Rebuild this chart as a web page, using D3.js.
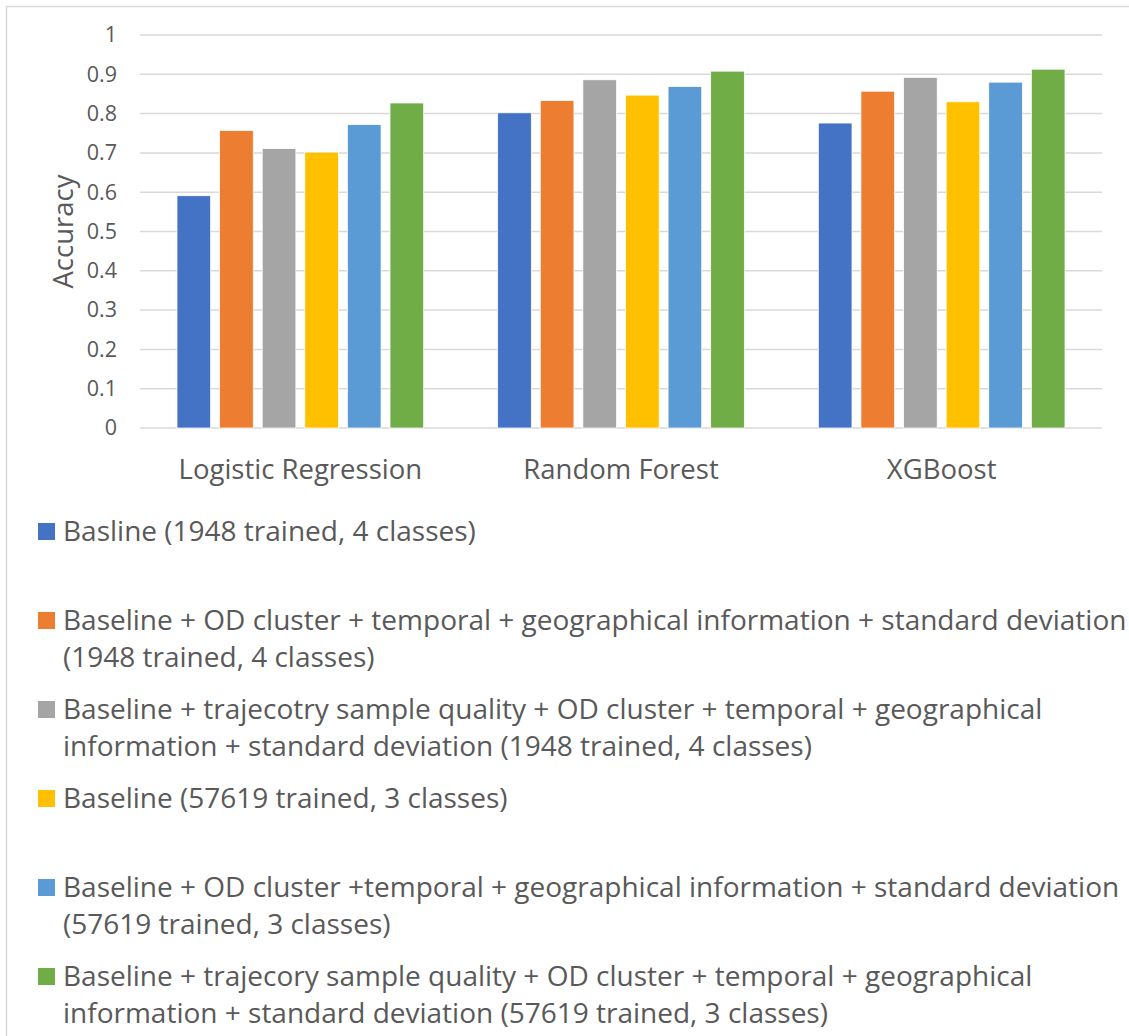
<!DOCTYPE html>
<html>
<head>
<meta charset="utf-8">
<script src="https://cdn.jsdelivr.net/npm/d3@7"></script>
<style>
    body { margin: 0; background: #fff; }
    text { font-family: "Open Sans", sans-serif; fill: #595959; }
</style>
</head>
<body>
<div id="graph"></div>
<script>
let categories = ["Logistic Regression", "Random Forest", "XGBoost"];

let seriesNames = [
    "Basline (1948 trained, 4 classes)",
    "Baseline + OD cluster + temporal + geographical information + standard deviation\n(1948 trained, 4 classes)",
    "Baseline + trajecotry sample quality + OD cluster + temporal + geographical\ninformation + standard deviation (1948 trained, 4 classes)",
    "Baseline (57619 trained, 3 classes)",
    "Baseline + OD cluster +temporal + geographical information + standard deviation\n(57619 trained, 3 classes)",
    "Baseline + trajecory sample quality + OD cluster + temporal + geographical\ninformation + standard deviation (57619 trained, 3 classes)"
];

let seriesColors = ["#4472C4", "#ED7D31", "#A5A5A5", "#FFC000", "#5B9BD5", "#70AD47"];

// one array per series, values in category order
let baseline1948 = [0.591, 0.802, 0.776];
let odTemporal1948 = [0.757, 0.833, 0.857];
let quality1948 = [0.711, 0.886, 0.892];
let baseline57619 = [0.702, 0.847, 0.830];
let odTemporal57619 = [0.772, 0.869, 0.880];
let quality57619 = [0.827, 0.908, 0.913];

let seriesValues = [baseline1948, odTemporal1948, quality1948, baseline57619, odTemporal57619, quality57619];

let yTickValues = [0, 0.1, 0.2, 0.3, 0.4, 0.5, 0.6, 0.7, 0.8, 0.9, 1];
let yTickLabels = ["0", "0.1", "0.2", "0.3", "0.4", "0.5", "0.6", "0.7", "0.8", "0.9", "1"];

let svgWidth = 1129;
let svgHeight = 1036;

let plotLeft = 140;
let plotRight = 1102;
let plotTop = 35;
let plotBottom = 428;

let svg = d3.select("#graph")
    .append("svg")
    .attr("width", svgWidth)
    .attr("height", svgHeight);

// chart area border (runs off the right and bottom of the picture)
svg.append("rect")
    .attr("x", 6.5)
    .attr("y", 6.5)
    .attr("width", svgWidth + 20)
    .attr("height", svgHeight + 20)
    .attr("fill", "none")
    .attr("stroke", "#d9d9d9")
    .attr("stroke-width", 1.5);

let x0 = d3.scaleBand()
    .domain(categories)
    .range([plotLeft, plotRight]);

let x1 = d3.scaleBand()
    .domain(d3.range(seriesNames.length))
    .range([37, x0.bandwidth() - 37])
    .paddingInner(0.21);

let yScale = d3.scaleLinear()
    .domain([0, 1])
    .range([plotBottom, plotTop]);

// gridlines
svg.append("g")
    .selectAll("line")
    .data(yTickValues)
    .enter()
    .append("line")
    .attr("x1", plotLeft)
    .attr("x2", plotRight)
    .attr("y1", (d) => yScale(d))
    .attr("y2", (d) => yScale(d))
    .attr("stroke", "#d9d9d9")
    .attr("stroke-width", 1.5);

// y axis labels only, no domain line or ticks
let yAxis = d3.axisLeft(yScale)
    .tickValues(yTickValues)
    .tickFormat((d, i) => yTickLabels[i])
    .tickSize(0)
    .tickPadding(23);

svg.append("g")
    .attr("class", "y axis")
    .attr("transform", "translate(" + plotLeft + ",0)")
    .call(yAxis)
    .call((g) => g.select(".domain").remove())
    .selectAll("text")
    .attr("font-family", "Open Sans")
    .attr("font-size", "21.5px")
    .attr("fill", "#595959");

// bars
let groups = svg.append("g")
    .selectAll("g")
    .data(categories)
    .enter()
    .append("g")
    .attr("transform", (d) => "translate(" + x0(d) + ",0)");

groups.selectAll("rect")
    .data((d, ci) => seriesValues.map((vals, si) => ({ s: si, v: vals[ci] })))
    .enter()
    .append("rect")
    .attr("x", (d) => x1(d.s))
    .attr("y", (d) => yScale(d.v))
    .attr("width", x1.bandwidth())
    .attr("height", (d) => yScale(0) - yScale(d.v))
    .attr("fill", (d) => seriesColors[d.s])
    .attr("stroke", "#fff")
    .attr("stroke-width", 0.75);

// x axis labels
let xAxis = d3.axisBottom(x0)
    .tickSize(0)
    .tickPadding(31);

svg.append("g")
    .attr("class", "x axis")
    .attr("transform", "translate(0," + plotBottom + ")")
    .call(xAxis)
    .call((g) => g.select(".domain").remove())
    .selectAll("text")
    .attr("font-family", "Open Sans")
    .attr("font-size", "27.5px")
    .attr("fill", "#595959");

// axis title
svg.append("text")
    .attr("transform", "translate(73," + ((plotTop + plotBottom) / 2) + ") rotate(-90)")
    .attr("text-anchor", "middle")
    .attr("font-size", "27.5px")
    .text("Accuracy");

// legend, one slot per series
let legendTop = 516;
let legendStep = 89;
let lineHeight = 37;

let legend = svg.append("g")
    .selectAll("g")
    .data(seriesNames)
    .enter()
    .append("g")
    .attr("transform", (d, i) => "translate(0," + (legendTop + i * legendStep) + ")");

legend.append("rect")
    .attr("x", 38)
    .attr("y", 7)
    .attr("width", 17)
    .attr("height", 17)
    .attr("fill", (d, i) => seriesColors[i]);

legend.append("text")
    .attr("font-size", "28px")
    .selectAll("tspan")
    .data((d) => d.split("\n"))
    .enter()
    .append("tspan")
    .attr("x", 63)
    .attr("y", (d, i) => 25 + i * lineHeight)
    .text((d) => d);
</script>
</body>
</html>
